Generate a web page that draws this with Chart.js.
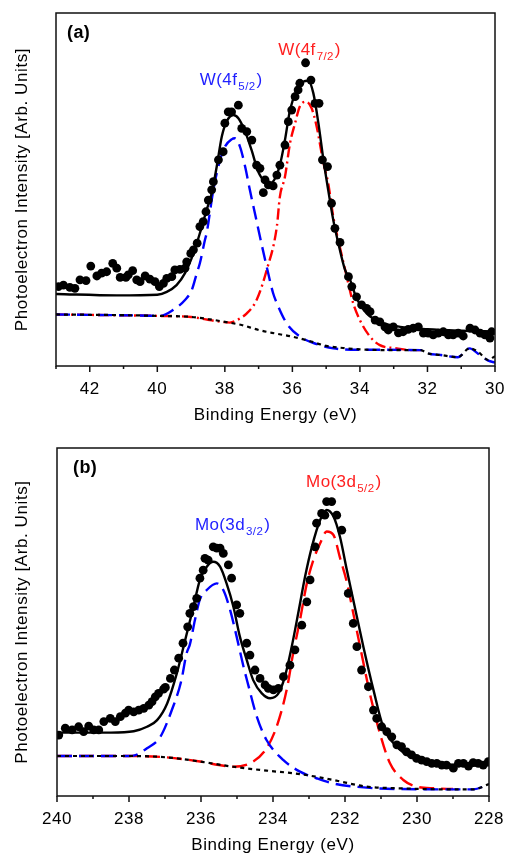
<!DOCTYPE html>
<html>
<head>
<meta charset="utf-8">
<script src="https://cdn.jsdelivr.net/npm/chart.js@4.4.1/dist/chart.umd.min.js"></script>
<style>
  body { margin: 0; background: #fff; }
  canvas { display: block; }
</style>
</head>
<body>
<canvas id="chartA" width="506" height="428"></canvas>
<canvas id="chartB" width="506" height="429"></canvas>
<script>
// ---- (a) W 4f region ----
const aDotE = [42.93,42.78,42.59,42.44,42.29,42.11,41.97,41.79,41.65,41.50,41.32,41.20,41.10,40.93,40.86,40.73,40.61,40.51,40.36,40.22,40.07,39.94,39.82,39.72,39.57,39.48,39.33,39.18,39.13,39.01,38.93,38.82,38.74,38.64,38.56,38.49,38.39,38.34,38.19,38.05,38.00,37.90,37.80,37.60,37.50,37.35,37.20,37.06,36.96,36.86,36.81,36.71,36.57,36.46,36.37,36.22,36.12,36.02,35.92,35.83,35.78,35.61,35.45,35.33,35.21,35.11,34.96,34.84,34.74,34.59,34.34,34.24,34.10,33.95,33.80,33.70,33.55,33.41,33.26,33.16,33.01,32.86,32.72,32.57,32.42,32.27,32.12,31.98,31.83,31.68,31.53,31.38,31.24,31.09,30.94,30.74,30.59,30.44,30.30,30.15,30.10]
const aDotI = [22.5,22.9,22.3,22.0,24.4,24.2,28.3,25.5,26.3,26.7,29.1,27.7,25.1,25.1,25.8,27.0,24.4,23.9,25.5,24.6,23.9,22.5,23.4,24.8,25.3,27.2,27.4,27.7,29.5,31.9,32.9,34.8,39.5,40.9,43.7,47.0,49.9,52.2,58.4,60.7,68.8,72.0,72.0,73.9,67.3,66.4,64.0,56.9,56.0,49.1,52.7,51.3,51.0,54.1,56.9,62.6,69.2,72.5,76.3,78.2,80.1,85.9,81.0,74.4,74.4,58.4,56.5,46.1,39.0,35.0,25.3,22.5,19.6,17.3,16.3,15.4,13.0,12.5,11.1,10.2,11.1,9.4,9.7,10.4,10.7,11.1,9.3,9.3,8.8,9.3,9.7,8.8,8.8,9.3,8.5,10.7,10.2,9.3,8.8,7.9,9.7]

const aFitE = [43,41.2,40.0,39.72,39.43,39.18,38.93,38.74,38.54,38.39,38.24,38.09,37.95,37.75,37.60,37.40,37.21,37.01,36.81,36.66,36.51,36.37,36.22,36.07,35.87,35.68,35.53,35.38,35.23,35.08,34.94,34.79,34.64,34.44,34.29,34.10,33.80,33.41,32.81,32.0,31.0,30.0]
const aFitI = [20.4,20.0,20.2,21.0,22.9,26.3,31.9,37.6,44.2,48.9,56.5,65.0,69.2,71.1,70.2,66.4,61.2,55.0,52.2,51.8,53.2,56.9,64.0,72.5,78.2,80.5,80.8,77.3,68.8,58.4,49.9,41.4,34.8,27.2,24.4,19.2,14.9,12.5,11.1,10.4,10.0,9.8]

const aBgE = [43,41,40,39,38.5,38,37.5,37,36.5,36,35.5,35,34.5,34,33,32.2,32.0,31.6,31.1,30.75,30.5,30.2,30.0]
const aBgI = [14.6,14.4,14.2,13.9,13.3,12.5,11.6,10.2,9.2,8.3,7.1,5.7,5.1,4.7,4.5,4.5,3.6,3.1,2.5,5.0,4.0,1.7,2.8]

const a52E = [43,40.5,39.92,39.53,39.18,38.98,38.83,38.74,38.59,38.54,38.34,38.14,38.0,37.80,37.70,37.55,37.40,37.26,37.11,36.96,36.76,36.57,36.46,36.17,35.77,35.28,34.79,34.0,32.2,32.0,31.6,31.1,30.75,30.5,30.2,30.0]
const a52I = [14.6,14.3,14.2,15.9,18.7,21.5,26.3,29.1,35.7,37.6,49.9,58.4,62.1,64.2,64.5,62.1,56.5,49.9,43.3,36.6,28.1,20.6,17.8,12.1,8.3,6.2,5.0,4.6,4.5,3.6,3.1,2.5,5.0,3.5,1.5,1.0]

const a72E = [43,40,39,38.5,38.1,37.85,37.6,37.35,37.06,36.76,36.46,36.37,36.22,36.07,35.92,35.78,35.60,35.43,35.28,35.08,34.94,34.79,34.59,34.39,34.20,34.0,33.70,33.41,32.91,32.5,32.2]
const a72I = [14.6,14.2,13.9,13.1,12.5,12.3,13.2,14.9,18.7,27.2,39.5,48.0,53.6,63.1,68.8,73.5,74.9,73.0,67.8,57.5,51.8,42.3,33.5,25.3,17.8,13.0,8.3,5.9,5.0,4.5,4.5]

const aTicks = [42,40,38,36,34,32,30]

// ---- (b) Mo 3d region ----
const bDotE = [239.95,239.77,239.58,239.40,239.26,239.12,238.98,238.84,238.70,238.52,238.38,238.24,238.10,238.01,237.87,237.73,237.59,237.45,237.36,237.27,237.18,237.04,236.99,236.85,236.74,236.62,236.50,236.37,236.31,236.21,236.12,236.03,235.94,235.89,235.80,235.66,235.56,235.47,235.38,235.24,235.15,235.01,234.92,234.73,234.64,234.50,234.36,234.22,234.13,233.99,233.85,233.71,233.53,233.39,233.20,233.06,232.97,232.83,232.79,232.65,232.56,232.51,232.37,232.23,232.09,231.91,231.77,231.67,231.54,231.35,231.21,231.12,230.98,230.84,230.70,230.56,230.43,230.29,230.15,230.01,229.87,229.73,229.59,229.45,229.31,229.18,228.99,228.85,228.71,228.57,228.44,228.30,228.16,228.02]
const bDotI = [17.5,19.5,19.0,19.9,18.5,20.1,19.0,19.0,21.4,22.3,21.4,22.8,23.8,24.7,24.2,24.7,25.2,26.1,27.1,28.5,29.5,30.7,31.2,33.8,36.2,39.6,43.9,48.6,52.5,54.4,56.8,62.6,64.9,68.3,67.8,71.6,71.2,71.2,69.7,66.4,62.6,54.9,52.5,43.9,40.5,36.2,33.8,31.9,30.9,30.5,30.9,34.3,37.6,42.0,49.1,55.8,62.1,71.6,78.4,81.2,80.7,84.6,84.6,80.7,76.4,58.2,49.6,42.9,36.2,31.4,24.7,22.3,19.9,18.5,17.0,14.7,14.2,12.7,11.8,10.8,10.3,9.9,9.4,9.4,8.9,8.9,8.0,9.4,9.4,8.6,9.6,9.4,8.9,9.9]

const bFitE = [240,238.5,237.87,237.5,237.22,236.94,236.67,236.44,236.21,236.03,235.84,235.66,235.47,235.29,235.10,234.92,234.73,234.55,234.31,234.08,233.85,233.67,233.48,233.30,233.11,232.92,232.69,232.51,232.32,232.14,231.95,231.77,231.49,231.21,230.94,230.56,230.19,229.64,229.0,228.0]
const bFitI = [18.2,18.2,18.6,19.9,21.8,26.6,35.3,44.8,54.4,62.1,65.9,67.3,65.9,61.1,54.4,45.8,39.1,33.3,29.5,28.1,29.5,34.3,42.9,52.5,63.0,71.6,79.3,82.2,80.3,74.5,65.0,56.3,42.9,30.5,19.9,14.2,11.3,9.4,9.0,8.8]

const bBgE = [240,238,236.95,236.03,235.1,234.18,233.25,232.33,231.4,230.47,229,228.44,228]
const bBgI = [11.5,11.5,11.1,9.9,8.4,7.3,6.3,4.6,2.7,2.2,1.9,1.9,3.4]

const b32E = [240,238,237.87,237.5,237.13,236.81,236.55,236.40,236.31,236.17,236.03,235.84,235.56,235.38,235.19,235.01,234.82,234.69,234.45,234.18,233.71,233.25,232.79,232.33,231.4,230.5,228.44,228.0]
const b32I = [11.5,11.5,11.6,13.7,17.0,24.7,33.0,41.0,43.5,50.5,56.5,59.2,61.1,59.2,53.4,45.8,37.2,32.0,22.8,16.1,10.3,7.0,5.1,3.6,2.4,2.0,1.9,3.4]

const b52E = [240,238,236.95,236.03,235.5,235.1,234.55,234.18,233.9,233.62,233.44,233.25,233.06,232.88,232.69,232.51,232.32,232.14,231.95,231.77,231.58,231.31,231.03,230.75,230.38,230.01,229.5,229.0]
const b52I = [11.5,11.5,11.1,9.9,8.9,8.4,9.9,13.7,19.9,30.5,41.0,50.6,61.1,67.8,72.6,76.0,75.0,68.5,61.5,52.5,42.9,29.5,18.0,9.4,4.6,2.7,2.2,2.0]

const bTicks = [240,238,236,234,232,230,228]

const FONT = "'Liberation Sans', Arial, sans-serif"
Chart.defaults.font.family = FONT
Chart.defaults.color = '#000'

const BLUE = '#0000ff'
const RED = '#ff0000'

const pts = (xs, ys) => xs.map((x, i) => ({ x, y: ys[i] }))

function dots(xs, ys) {
  return {
    data: pts(xs, ys),
    pointRadius: 4.4,
    pointBackgroundColor: '#000',
    pointBorderWidth: 0,
    showLine: false,
    order: 0,
  }
}

function curve(xs, ys, color, dash, order, width = 2.4) {
  return {
    data: pts(xs, ys),
    showLine: true,
    borderColor: color,
    borderWidth: width,
    borderDash: dash,
    pointRadius: 0,
    cubicInterpolationMode: 'monotone',
    order,
  }
}

// slightly spread lettering for all axis text
const spacing = {
  id: 'spacing',
  beforeDraw(chart) { chart.ctx.letterSpacing = '0.6px' },
}

// plot box and minor/major tick marks on the energy axis
const frame = {
  id: 'frame',
  afterDraw(chart) {
    const { ctx, chartArea: ca } = chart
    const s = chart.scales.x
    ctx.save()
    ctx.strokeStyle = '#111'
    ctx.lineWidth = 1.5
    ctx.strokeRect(ca.left, ca.top, ca.right - ca.left, ca.bottom - ca.top)
    ctx.beginPath()
    for (let v = Math.ceil(s.min); v <= s.max; v++) {
      const px = s.getPixelForValue(v)
      const len = v % 2 === 0 ? 6 : 3
      ctx.moveTo(px, ca.bottom)
      ctx.lineTo(px, ca.bottom + len)
    }
    ctx.stroke()
    ctx.restore()
  },
}

// panel letter and peak names with subscripts
const peakLabels = {
  id: 'peakLabels',
  afterDraw(chart, args, opts) {
    const { ctx, chartArea: ca } = chart
    const { x, y } = chart.scales
    ctx.save()
    ctx.letterSpacing = '0.4px'
    ctx.textBaseline = 'alphabetic'
    ctx.fillStyle = '#000'
    ctx.font = `bold 18px ${FONT}`
    ctx.fillText(opts.panel, ca.left + opts.panelDx, ca.top + 25)
    for (const t of opts.items) {
      let px = x.getPixelForValue(t.x)
      const py = y.getPixelForValue(t.y)
      ctx.fillStyle = t.color
      ctx.font = `17px ${FONT}`
      ctx.fillText(t.text, px, py)
      px += ctx.measureText(t.text).width + 1
      ctx.font = `11.5px ${FONT}`
      ctx.fillText(t.sub, px, py + 5)
      px += ctx.measureText(t.sub).width + 1
      ctx.font = `17px ${FONT}`
      ctx.fillText(')', px, py)
    }
    ctx.restore()
  },
}

function makeChart(id, cfg) {
  new Chart(document.getElementById(id), {
    type: 'scatter',
    data: { datasets: cfg.datasets },
    options: {
      responsive: false,
      animation: false,
      events: [],
      layout: { padding: cfg.padding },
      plugins: {
        legend: { display: false },
        tooltip: { enabled: false },
        peakLabels: cfg.labels,
      },
      scales: {
        x: {
          type: 'linear',
          min: cfg.xMin,
          max: cfg.xMax,
          reverse: true,
          grid: { display: false },
          border: { display: false },
          ticks: {
            stepSize: 1,
            autoSkip: false,
            maxRotation: 0,
            padding: 5,
            font: { size: 17 },
            callback: (v) => (cfg.ticks.includes(v) ? String(v) : ''),
          },
          title: {
            display: true,
            text: 'Binding Energy (eV)',
            font: { size: 17 },
            padding: { top: 0, bottom: cfg.xTitlePad },
          },
          afterFit: (s) => {
            s.height = cfg.xHeight
            // end labels may overhang the frame, as on the printed axis
            s.paddingLeft = 0
            s.paddingRight = 0
          },
        },
        y: {
          min: 0,
          max: 100,
          grid: { display: false },
          border: { display: false },
          ticks: { display: false },
          title: {
            display: true,
            text: 'Photoelectron Intensity [Arb. Units]',
            font: { size: 17 },
            padding: { top: 12, bottom: 0 },
          },
          afterFit: (s) => {
            s.width = cfg.yWidth
            s.paddingTop = 0
            s.paddingBottom = 0
          },
        },
      },
    },
    plugins: [spacing, frame, peakLabels],
  })
}

makeChart('chartA', {
  xMin: 30, xMax: 43, ticks: aTicks,
  padding: { top: 13, right: 11, left: 0, bottom: 0 },
  xHeight: 62, yWidth: 56, xTitlePad: 2,
  datasets: [
    dots(aDotE, aDotI),
    curve(aFitE, aFitI, '#000', [], 1),
    curve(aBgE, aBgI, '#000', [4, 4], 2, 2.2),
    curve(a52E, a52I, BLUE, [14, 7], 3),
    curve(a72E, a72I, RED, [11, 4, 2, 4], 3),
  ],
  labels: {
    panel: '(a)', panelDx: 11,
    items: [
      { x: 38.74, y: 79.6, text: 'W(4f', sub: '5/2', color: '#1f1fff' },
      { x: 36.42, y: 88.1, text: 'W(4f', sub: '7/2', color: '#ff2020' },
    ],
  },
})

makeChart('chartB', {
  xMin: 228, xMax: 240, ticks: bTicks,
  padding: { top: 20, right: 17, left: 0, bottom: 0 },
  xHeight: 61, yWidth: 57, xTitlePad: 1,
  datasets: [
    dots(bDotE, bDotI),
    curve(bFitE, bFitI, '#000', [], 1),
    curve(bBgE, bBgI, '#000', [4, 4], 2, 2.2),
    curve(b32E, b32I, BLUE, [15, 7], 3),
    curve(b52E, b52I, RED, [15, 7], 3),
  ],
  labels: {
    panel: '(b)', panelDx: 16,
    items: [
      { x: 236.17, y: 76.4, text: 'Mo(3d', sub: '3/2', color: '#1f1fff' },
      { x: 233.08, y: 88.8, text: 'Mo(3d', sub: '5/2', color: '#ff2020' },
    ],
  },
})
</script>
</body>
</html>
